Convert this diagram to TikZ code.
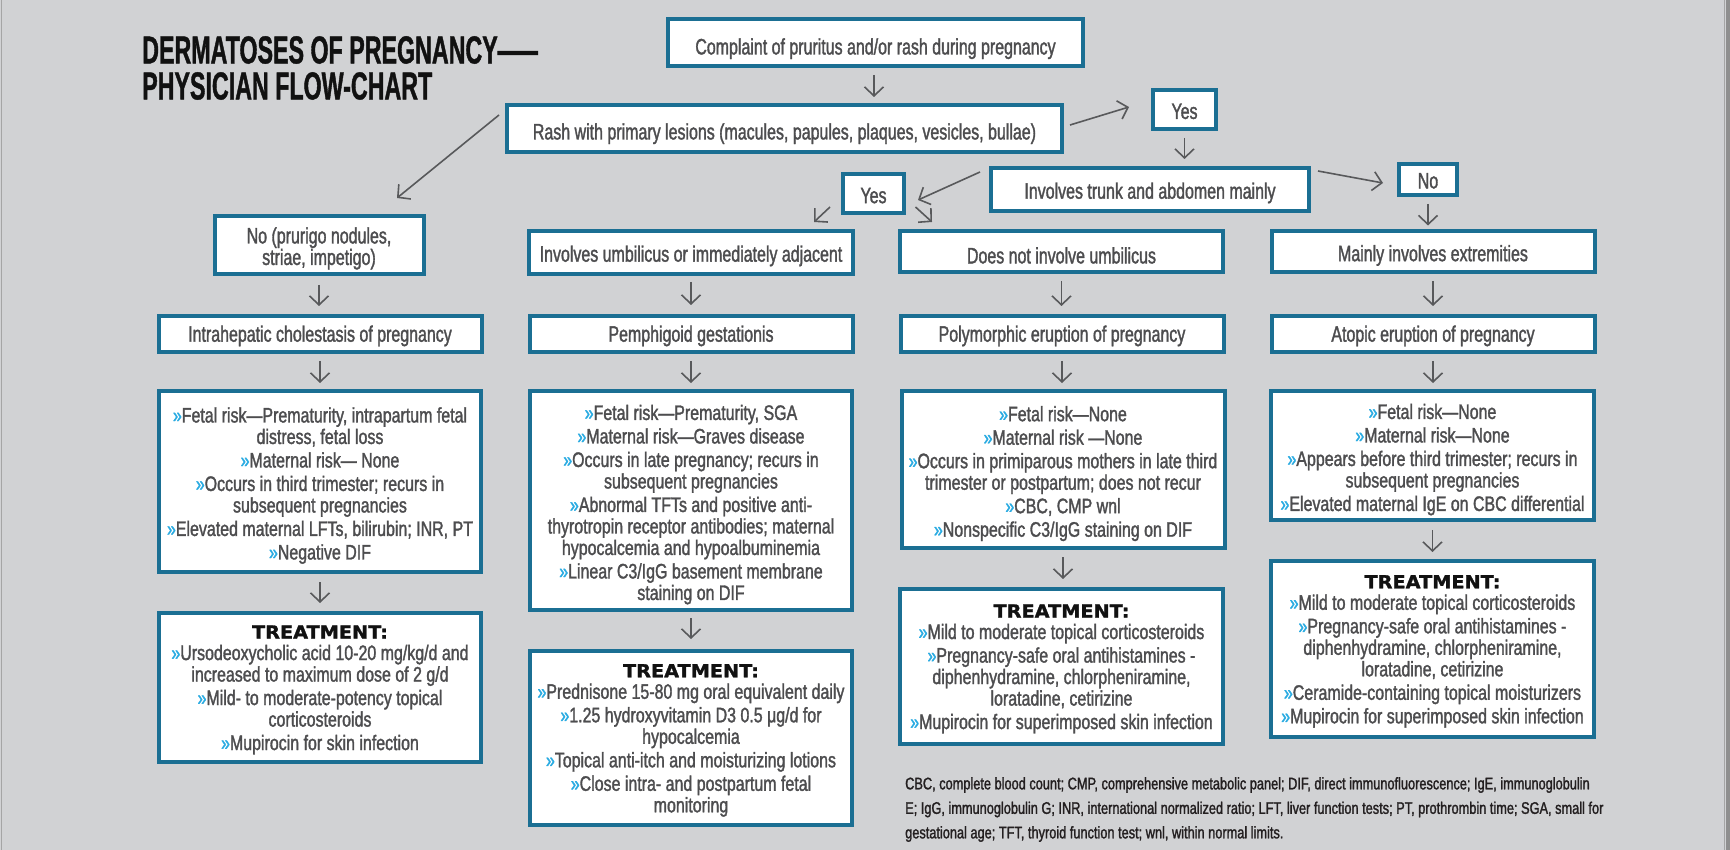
\documentclass[tikz,border=0pt]{standalone}
\usepackage{fontspec}
\usepackage{graphicx}
\setmainfont{Liberation Sans}
\newfontfamily\cond{Liberation Sans}[FakeStretch=0.76,FakeBold=1.5]
\newfontfamily\condn{Liberation Sans}[FakeStretch=0.716,FakeBold=1.5]
\newfontfamily\titlefnt{Liberation Sans}[FakeStretch=0.596,FakeBold=1]
\newfontfamily\treatfnt{DejaVu Sans}[FakeStretch=1.07,FakeBold=1.5]
\usetikzlibrary{arrows.meta,calc}
\definecolor{bg}{RGB}{209,210,212}
\definecolor{bordc}{RGB}{27,111,147}
\definecolor{txt}{RGB}{77,77,79}
\definecolor{arrc}{RGB}{88,89,91}
\definecolor{bulc}{RGB}{41,171,226}
\definecolor{ttl}{RGB}{17,17,17}
\definecolor{footc}{RGB}{35,31,32}
\definecolor{edgec}{RGB}{143,143,143}
\newcommand\bult{{\color{bulc}»}}
\newcommand\nxt{\\[2pt]}
\newcommand\tsh[1]{\rule{0pt}{#1pt}}
\newcommand\trt{{\color{ttl}\treatfnt\bfseries\fontsize{18}{18}\selectfont\rule{0pt}{18pt}TREATMENT:}}
\tikzset{
  bx/.style={draw=bordc,line width=4pt,fill=white,text=txt,
    font=\cond\fontsize{21}{21.5}\selectfont,align=center,inner sep=2pt},
  qbx/.style={bx,font=\condn\fontsize{22.3}{21.5}\selectfont},
  arr/.style={draw=arrc,line width=1.6pt,-{Straight Barb[length=9pt,width=19pt]}},
}
\begin{document}
\begin{tikzpicture}[x=1pt,y=-1pt]
\useasboundingbox (0,0) rectangle (1730,850);
\fill[bg] (0,0) rectangle (1730,850);
\fill[edgec] (1726,0) rectangle (1730,850);
\draw[edgec!80,line width=1pt] (1724,0) -- (1724,850);
\draw[edgec!80,line width=1.2pt] (1.5,0) -- (1.5,850);

% title
\node[anchor=north west,inner sep=0pt,align=left,text=ttl,
  font=\titlefnt\bfseries\fontsize{39}{36}\selectfont] (title) at (142,36)
  {DERMATOSES OF PREGNANCY\scalebox{1.72}[1]{—}\\PHYSICIAN FLOW-CHART};

% top nodes
\node[qbx,minimum width=415pt,minimum height=47pt] (complaint) at (875.5,42.5)
  {\tsh{28.5}Complaint of pruritus and/or rash during pregnancy};
\node[qbx,minimum width=555pt,minimum height=47pt] (rash) at (784.5,128.5)
  {\tsh{26.5}Rash with primary lesions (macules, papules, plaques, vesicles, bullae)};
\node[qbx,minimum width=63pt,minimum height=39pt] (yes1) at (1184.5,109.5) {\tsh{19}Yes};
\node[qbx,minimum width=318pt,minimum height=43pt] (trunk) at (1150,189.5)
  {\tsh{23}Involves trunk and abdomen mainly};
\node[qbx,minimum width=61pt,minimum height=39pt] (yes2) at (873.5,193.5) {\tsh{19.5}Yes};
\node[qbx,minimum width=58pt,minimum height=31pt] (no2) at (1428,179.5) {\tsh{18}No};
\node[qbx,minimum width=209pt,minimum height=58pt] (noP) at (319,245)
  {\tsh{23}No (prurigo nodules,\\striae, impetigo)};
\node[qbx,minimum width=324pt,minimum height=43pt] (umb) at (691,252.5)
  {\tsh{23}Involves umbilicus or immediately adjacent};
\node[qbx,minimum width=323pt,minimum height=41pt] (notumb) at (1061.5,251.5)
  {\tsh{24}Does not involve umbilicus};
\node[qbx,minimum width=323pt,minimum height=41pt] (extr) at (1433,251.5)
  {\tsh{24}Mainly involves extremities};

% disease names
\node[qbx,minimum width=323pt,minimum height=36pt] (icp) at (320,334)
  {\tsh{20}Intrahepatic cholestasis of pregnancy};
\node[qbx,minimum width=323pt,minimum height=36pt] (pg) at (691,334)
  {\tsh{20}Pemphigoid gestationis};
\node[qbx,minimum width=323pt,minimum height=36pt] (pep) at (1062,334)
  {\tsh{20}Polymorphic eruption of pregnancy};
\node[qbx,minimum width=323pt,minimum height=36pt] (aep) at (1433,334)
  {\tsh{20}Atopic eruption of pregnancy};

% details
\node[bx,minimum width=322pt,minimum height=181pt] (icpd) at (320,481.5)
  {\tsh{23.3}\bult Fetal risk—Prematurity, intrapartum fetal\\
   distress, fetal loss\nxt
   \bult Maternal risk— None\nxt
   \bult Occurs in third trimester; recurs in\\
   subsequent pregnancies\nxt
   \bult Elevated maternal LFTs, bilirubin; INR, PT\nxt
   \bult Negative DIF};
\node[bx,minimum width=322pt,minimum height=219pt] (pgd) at (691,500.5)
  {\tsh{23.3}\bult Fetal risk—Prematurity, SGA\nxt
   \bult Maternal risk—Graves disease\nxt
   \bult Occurs in late pregnancy; recurs in\\
   subsequent pregnancies\nxt
   \bult Abnormal TFTs and positive anti-\\
   thyrotropin receptor antibodies; maternal\\
   hypocalcemia and hypoalbuminemia\nxt
   \bult Linear C3/IgG basement membrane\\
   staining on DIF};
\node[bx,minimum width=323pt,minimum height=157pt] (pepd) at (1063,469.5)
  {\tsh{23.3}\bult Fetal risk—None\nxt
   \bult Maternal risk —None\nxt
   \bult Occurs in primiparous mothers in late third\\
   trimester or postpartum; does not recur\nxt
   \bult CBC, CMP wnl\nxt
   \bult Nonspecific C3/IgG staining on DIF};
\node[bx,minimum width=323pt,minimum height=129pt] (aepd) at (1432.5,455.5)
  {\tsh{23.3}\bult Fetal risk—None\nxt
   \bult Maternal risk—None\nxt
   \bult Appears before third trimester; recurs in\\
   subsequent pregnancies\nxt
   \bult Elevated maternal IgE on CBC differential};

% treatments
\node[bx,minimum width=322pt,minimum height=149pt] (icpt) at (320,687.5)
  {\trt\\
   \bult Ursodeoxycholic acid 10-20 mg/kg/d and\\
   increased to maximum dose of 2 g/d\nxt
   \bult Mild- to moderate-potency topical\\
   corticosteroids\nxt
   \bult Mupirocin for skin infection};
\node[bx,minimum width=322pt,minimum height=174pt] (pgt) at (691,738)
  {\trt\\
   \bult Prednisone 15-80 mg oral equivalent daily\nxt
   \bult 1.25 hydroxyvitamin D3 0.5 μg/d for\\
   hypocalcemia\nxt
   \bult Topical anti-itch and moisturizing lotions\nxt
   \bult Close intra- and postpartum fetal\\
   monitoring};
\node[bx,minimum width=323pt,minimum height=155pt] (pept) at (1061.5,666.5)
  {\trt\\
   \bult Mild to moderate topical corticosteroids\nxt
   \bult Pregnancy-safe oral antihistamines -\\
   diphenhydramine, chlorpheniramine,\\
   loratadine, cetirizine\nxt
   \bult Mupirocin for superimposed skin infection};
\node[bx,minimum width=323pt,minimum height=176pt] (aept) at (1432.5,649)
  {\trt\\
   \bult Mild to moderate topical corticosteroids\nxt
   \bult Pregnancy-safe oral antihistamines -\\
   diphenhydramine, chlorpheniramine,\\
   loratadine, cetirizine\nxt
   \bult Ceramide-containing topical moisturizers\nxt
   \bult Mupirocin for superimposed skin infection};

% footnote
\node[anchor=west,align=left,inner sep=0pt,text=footc,
  font=\cond\fontsize{16.8}{24.5}\selectfont] (foot) at (905,809.5)
  {CBC, complete blood count; CMP, comprehensive metabolic panel; DIF, direct immunofluorescence; IgE, immunoglobulin\\
   E; IgG, immunoglobulin G; INR, international normalized ratio; LFT, liver function tests; PT, prothrombin time; SGA, small for\\
   gestational age; TFT, thyroid function test; wnl, within normal limits.};

% arrows
\draw[arr,shorten <=7pt,shorten >=6pt] ($(complaint.south)+(-1.5,0)$) -- ($(complaint.south |- rash.north)+(-1.5,0)$);
\draw[arr] ($(rash.west)+(-6,-13.5)$) -- ($(noP.north)+(78,-16)$);
\draw[arr] ($(rash.east)+(6,-3.5)$) -- ($(yes1.west)+(-22,-2.5)$);
\draw[arr,shorten <=7pt,shorten >=7pt] (yes1.south) -- (yes1.south |- trunk.north);
\draw[arr] ($(trunk.west)+(-9,-17.5)$) -- ($(yes2.east)+(12,6.5)$);
\draw[arr] ($(trunk.east)+(7,-18.5)$) -- ($(no2.west)+(-14,3.5)$);
\draw[arr,shorten <=7pt,shorten >=3.5pt] (no2.south) -- (no2.south |- extr.north);
\draw[arr] ($(yes2.south west)+(-11,-8)$) -- ($(umb.north east)+(-41,-7)$);
\draw[arr] ($(yes2.south east)+(9.5,-8)$) -- ($(notumb.north west)+(34,-7)$);

\draw[arr,shorten <=9pt,shorten >=8pt] (noP.south) -- (noP.south |- icp.north);
\draw[arr,shorten <=6pt,shorten >=9pt] (umb.south) -- (umb.south |- pg.north);
\draw[arr,shorten <=7pt,shorten >=8pt] (notumb.south) -- (notumb.south |- pep.north);
\draw[arr,shorten <=7pt,shorten >=8pt] (extr.south) -- (extr.south |- aep.north);

\draw[arr,shorten <=7pt,shorten >=6pt] (icp.south) -- (icp.south |- icpd.north);
\draw[arr,shorten <=7pt,shorten >=6pt] (pg.south) -- (pg.south |- pgd.north);
\draw[arr,shorten <=7pt,shorten >=6pt] (pep.south) -- (pep.south |- pepd.north);
\draw[arr,shorten <=7pt,shorten >=6pt] (aep.south) -- (aep.south |- aepd.north);

\draw[arr,shorten <=8pt,shorten >=8pt] (icpd.south) -- (icpd.south |- icpt.north);
\draw[arr,shorten <=6pt,shorten >=10pt] (pgd.south) -- (pgd.south |- pgt.north);
\draw[arr,shorten <=7pt,shorten >=8pt] (pepd.south) -- (pepd.south |- pept.north);
\draw[arr,shorten <=8pt,shorten >=7pt] (aepd.south) -- (aepd.south |- aept.north);
\end{tikzpicture}
\end{document}
